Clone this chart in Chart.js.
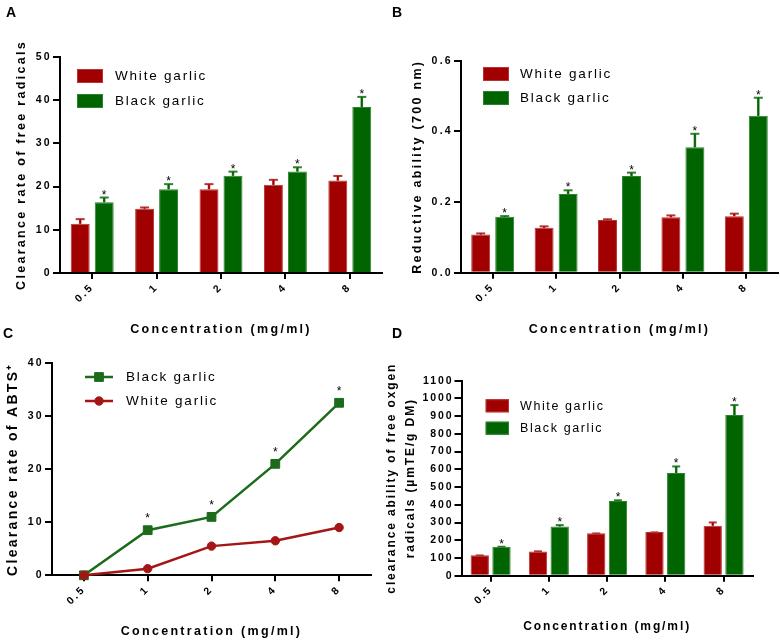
<!DOCTYPE html>
<html><head><meta charset="utf-8">
<script src="https://cdn.jsdelivr.net/npm/chart.js@4.4.0/dist/chart.umd.min.js"></script>
<style>
html,body{margin:0;padding:0;background:#fff;}
body{width:780px;height:640px;position:relative;overflow:hidden;font-family:"Liberation Sans",Arial,sans-serif;}
.pnl{position:absolute;}
.pnl canvas{display:block;}
.lbl{position:absolute;font:bold 14px "Liberation Sans",Arial,sans-serif;line-height:1;color:#000;}
</style></head><body>
<div class="pnl" style="left:0;top:0"><canvas id="cA" width="390" height="345"></canvas></div>
<div class="pnl" style="left:390px;top:0"><canvas id="cB" width="390" height="345"></canvas></div>
<div class="pnl" style="left:0;top:320px"><canvas id="cC" width="390" height="320"></canvas></div>
<div class="pnl" style="left:380px;top:320px"><canvas id="cD" width="400" height="320"></canvas></div>
<div class="lbl" style="left:6px;top:5px">A</div>
<div class="lbl" style="left:392px;top:5px">B</div>
<div class="lbl" style="left:3px;top:326px">C</div>
<div class="lbl" style="left:392px;top:326px">D</div>
<script>
// ---------------- DATA ----------------
const categories = ['0.5', '1', '2', '4', '8'];
const whiteName = 'White garlic';
const blackName = 'Black garlic';
const xTitle = 'Concentration (mg/ml)';

// Panel A
const whiteA = [11.4, 14.9, 19.4, 20.4, 21.4];
const whiteAErr = [1.3, 0.5, 1.4, 1.4, 1.3];
const blackA = [16.4, 19.4, 22.5, 23.5, 38.4];
const blackAErr = [1.3, 1.4, 1.2, 1.2, 2.6];
const starsA = [true, true, true, true, true];
const ticksA = [0, 10, 20, 30, 40, 50];
const tickLabelsA = ['0', '10', '20', '30', '40', '50'];

// Panel B
const whiteB = [0.108, 0.127, 0.149, 0.157, 0.160];
const whiteBErr = [0.006, 0.007, 0.005, 0.008, 0.010];
const blackB = [0.158, 0.223, 0.274, 0.355, 0.444];
const blackBErr = [0.005, 0.013, 0.012, 0.041, 0.054];
const starsB = [true, true, true, true, true];
const ticksB = [0, 0.2, 0.4, 0.6];
const tickLabelsB = ['0.0', '0.2', '0.4', '0.6'];

// Panel C
const blackC = [0, 8.5, 11.0, 21.0, 32.5];
const whiteC = [0, 1.25, 5.5, 6.5, 9.0];
const starsC = [false, true, true, true, true];
const ticksC = [0, 10, 20, 30, 40];
const tickLabelsC = ['0', '10', '20', '30', '40'];

// Panel D
const whiteD = [115, 137, 239, 246, 282];
const whiteDErr = [5, 6, 5, 4, 24];
const blackD = [164, 278, 421, 579, 906];
const blackDErr = [5, 13, 10, 43, 62];
const starsD = [true, true, true, true, true];
const ticksD = [0, 100, 200, 300, 400, 500, 600, 700, 800, 900, 1000, 1100];
const tickLabelsD = ['0', '100', '200', '300', '400', '500', '600', '700', '800', '900', '1000', '1100'];

// ---------------- STYLE ----------------
const FONT = '"Liberation Sans", Arial, Helvetica, sans-serif';
const RED = '#A00000', RED_EDGE = '#B83434';
const GREEN = '#006400', GREEN_EDGE = '#2E7F2E';
const LRED = '#A51515', LGREEN = '#1B6B1B';

Chart.defaults.font.family = FONT;
Chart.defaults.color = '#000';

const spacingPlugin = {
  id: 'spacing',
  beforeInit(c, a, o) { c.ctx.letterSpacing = o.value; },
  beforeUpdate(c, a, o) { c.ctx.letterSpacing = o.value; },
  beforeLayout(c, a, o) { c.ctx.letterSpacing = o.value; },
  beforeDraw(c, a, o) { c.ctx.letterSpacing = o.value; }
};

const errPlugin = {
  id: 'errbars',
  afterDatasetsDraw(chart, args, o) {
    const ctx = chart.ctx, ys = chart.scales.y;
    chart.data.datasets.forEach((ds, di) => {
      const meta = chart.getDatasetMeta(di);
      meta.data.forEach((el, i) => {
        const x = el.x;
        let anchor = el.y;
        ctx.save();
        if (ds.errors) {
          const yBar = ys.getPixelForValue(ds.data[i]);
          const yTop = ys.getPixelForValue(ds.data[i] + ds.errors[i]);
          ctx.strokeStyle = ds.borderColor;
          ctx.lineWidth = 2.5;
          ctx.beginPath(); ctx.moveTo(x, yBar); ctx.lineTo(x, yTop + 1); ctx.stroke();
          ctx.lineWidth = 2;
          ctx.beginPath(); ctx.moveTo(x - o.capW / 2, yTop + 1); ctx.lineTo(x + o.capW / 2, yTop + 1); ctx.stroke();
          ctx.strokeStyle = ds.backgroundColor;
          ctx.lineWidth = 1.5;
          ctx.beginPath(); ctx.moveTo(x, yBar); ctx.lineTo(x, yTop + 1); ctx.stroke();
          anchor = yTop + 1;
        }
        if (ds.stars && ds.stars[i]) {
          ctx.letterSpacing = '0px';
          ctx.fillStyle = '#000';
          ctx.font = '12px ' + FONT;
          ctx.textAlign = 'center';
          ctx.textBaseline = 'alphabetic';
          ctx.fillText('*', x, anchor + o.starDy);
        }
        ctx.restore();
      });
    });
  }
};

const legendPlugin = {
  id: 'boxLegend',
  afterDraw(chart, args, o) {
    const ctx = chart.ctx;
    ctx.save();
    ctx.letterSpacing = o.spacing;
    ctx.font = o.font + ' ' + FONT;
    ctx.textBaseline = 'middle';
    ctx.textAlign = 'left';
    o.order.forEach((di, k) => {
      const ds = chart.data.datasets[di];
      const cy = o.y + k * o.dy;
      if (o.type === 'box') {
        ctx.fillStyle = ds.backgroundColor;
        ctx.fillRect(o.x, cy - o.h / 2, o.w, o.h);
        ctx.strokeStyle = ds.borderColor;
        ctx.lineWidth = 1;
        ctx.strokeRect(o.x + 0.5, cy - o.h / 2 + 0.5, o.w - 1, o.h - 1);
      } else {
        ctx.strokeStyle = ds.borderColor;
        ctx.lineWidth = ds.borderWidth;
        ctx.beginPath(); ctx.moveTo(o.x, cy); ctx.lineTo(o.x + o.w, cy); ctx.stroke();
        ctx.fillStyle = ds.pointBackgroundColor;
        ctx.strokeStyle = ds.pointBorderColor;
        ctx.lineWidth = 1;
        Chart.helpers.drawPoint(ctx, {pointStyle: ds.pointStyle, radius: ds.pointRadius, borderWidth: 1}, o.x + o.w / 2, cy);
      }
      ctx.fillStyle = '#000';
      ctx.fillText(ds.label, o.tx, cy + 0.5);
    });
    ctx.restore();
  }
};

function yAxis(o) {
  return {
    min: 0, max: o.max,
    afterFit: s => { s.width = o.width; },
    afterBuildTicks: s => { s.ticks = o.ticks.map(v => ({value: v})); },
    ticks: { callback: (v, i) => o.labels[i], font: {size: 10.5, weight: 'bold'}, color: '#000', padding: 1, autoSkip: false },
    grid: { drawOnChartArea: false, drawTicks: true, tickLength: 7, color: '#000', lineWidth: 2 },
    border: { display: true, color: '#000', width: 2 },
    title: { display: true, text: o.title, color: '#000',
      font: {size: o.tsize, weight: 'bold', lineHeight: o.tlh || 1.2},
      padding: {top: o.tpad, bottom: 0} }
  };
}
function xAxis(o) {
  return {
    type: 'category', offset: true,
    afterFit: s => { s.height = o.height; },
    ticks: { font: {size: 10.5, weight: 'bold'}, color: '#000', minRotation: 45, maxRotation: 45, autoSkip: false, padding: 2 },
    grid: { offset: false, drawOnChartArea: false, drawTicks: true, tickLength: 6, color: '#000', lineWidth: 2 },
    border: { display: true, color: '#000', width: 2 },
    title: { display: true, text: xTitle, color: '#000',
      font: {size: o.tsize, weight: 'bold'}, padding: {top: 0, bottom: o.tpad} }
  };
}
function barDs(label, data, errs, stars, fill, edge, cp, bp) {
  return { label, data, errors: errs, stars, backgroundColor: fill, borderColor: edge,
    borderWidth: 1, categoryPercentage: cp, barPercentage: bp };
}
function baseOpts(pad, spacing) {
  return { responsive: false, animation: false, devicePixelRatio: 1,
    layout: { padding: pad },
    plugins: { legend: {display: false}, tooltip: {enabled: false}, spacing: {value: spacing} } };
}
const plugins = [spacingPlugin, errPlugin, legendPlugin];

// ---------- Panel A ----------
(function () {
  const opts = baseOpts({left: 0, top: 57, right: 8, bottom: 0}, '2.3px');
  opts.scales = {
    x: xAxis({height: 72, tsize: 12.5, tpad: 7.5}),
    y: yAxis({max: 50, width: 60, ticks: ticksA, labels: tickLabelsA,
      title: 'Clearance rate of free radicals', tsize: 12.5, tpad: 14.5})
  };
  opts.plugins.errbars = {capW: 9, starDy: 1};
  opts.plugins.boxLegend = {type: 'box', order: [0, 1], x: 77, y: 76, dy: 25, w: 26, h: 14, tx: 115, font: '13.5px', spacing: '1.8px'};
  new Chart(document.getElementById('cA'), {
    type: 'bar',
    data: { labels: categories, datasets: [
      barDs(whiteName, whiteA, whiteAErr, null, RED, RED_EDGE, 0.745, 0.79),
      barDs(blackName, blackA, blackAErr, starsA, GREEN, GREEN_EDGE, 0.745, 0.79)
    ]},
    options: opts, plugins
  });
})();

// ---------- Panel B ----------
(function () {
  const opts = baseOpts({left: 0, top: 60.7, right: 2, bottom: 0}, '2.3px');
  opts.scales = {
    x: xAxis({height: 72.3, tsize: 12.5, tpad: 7.5}),
    y: yAxis({max: 0.6, width: 71, ticks: ticksB, labels: tickLabelsB,
      title: 'Reductive ability (700 nm)', tsize: 12.5, tpad: 20.5})
  };
  opts.plugins.errbars = {capW: 9, starDy: 1};
  opts.plugins.boxLegend = {type: 'box', order: [0, 1], x: 93, y: 74, dy: 24, w: 26, h: 14, tx: 130, font: '13.5px', spacing: '1.8px'};
  new Chart(document.getElementById('cB'), {
    type: 'bar',
    data: { labels: categories, datasets: [
      barDs(whiteName, whiteB, whiteBErr, null, RED, RED_EDGE, 0.757, 0.79),
      barDs(blackName, blackB, blackBErr, starsB, GREEN, GREEN_EDGE, 0.757, 0.79)
    ]},
    options: opts, plugins
  });
})();

// ---------- Panel C ----------
(function () {
  const opts = baseOpts({left: 0, top: 43, right: 19, bottom: 0}, '2.3px');
  opts.scales = {
    x: xAxis({height: 64.7, tsize: 12.5, tpad: 0.5}),
    y: yAxis({max: 40, width: 52, ticks: ticksC, labels: tickLabelsC,
      title: 'Clearance rate of ABTS\u207A', tsize: 14, tpad: 4.6})
  };
  opts.plugins.errbars = {capW: 9, starDy: -8};
  opts.plugins.boxLegend = {type: 'line', order: [1, 0], x: 85, y: 57, dy: 24, w: 28, tx: 126, font: '13.5px', spacing: '1.8px'};
  new Chart(document.getElementById('cC'), {
    type: 'line',
    data: { labels: categories, datasets: [
      { label: whiteName, data: whiteC, borderColor: LRED, backgroundColor: LRED, borderWidth: 2.5,
        pointStyle: 'circle', pointRadius: 4.2, pointBackgroundColor: LRED, pointBorderColor: LRED,
        pointBorderWidth: 1, clip: false, tension: 0 },
      { label: blackName, data: blackC, stars: starsC, borderColor: LGREEN, backgroundColor: LGREEN, borderWidth: 2.5,
        pointStyle: 'rect', pointRadius: 6.2, pointBackgroundColor: LGREEN, pointBorderColor: LGREEN,
        pointBorderWidth: 1, clip: false, tension: 0 }
    ]},
    options: opts, plugins
  });
})();

// ---------- Panel D ----------
(function () {
  const opts = baseOpts({left: 0, top: 60.7, right: 27.3, bottom: 0}, '1.9px');
  opts.scales = {
    x: xAxis({height: 64.3, tsize: 12, tpad: 5.8}),
    y: yAxis({max: 1100, width: 81.5, ticks: ticksD, labels: tickLabelsD,
      title: ['clearance ability of free oxgen', 'radicals (\u00B5mTE/g DM)'], tsize: 12, tlh: 1.54, tpad: 2.8})
  };
  opts.plugins.errbars = {capW: 8, starDy: 1};
  opts.plugins.boxLegend = {type: 'box', order: [0, 1], x: 105.7, y: 85.8, dy: 22.4, w: 23.3, h: 13, tx: 140, font: '12.5px', spacing: '1.6px'};
  new Chart(document.getElementById('cD'), {
    type: 'bar',
    data: { labels: categories, datasets: [
      barDs(whiteName, whiteD, whiteDErr, null, RED, RED_EDGE, 0.746, 0.843),
      barDs(blackName, blackD, blackDErr, starsD, GREEN, GREEN_EDGE, 0.746, 0.843)
    ]},
    options: opts, plugins
  });
})();
</script>
</body></html>
